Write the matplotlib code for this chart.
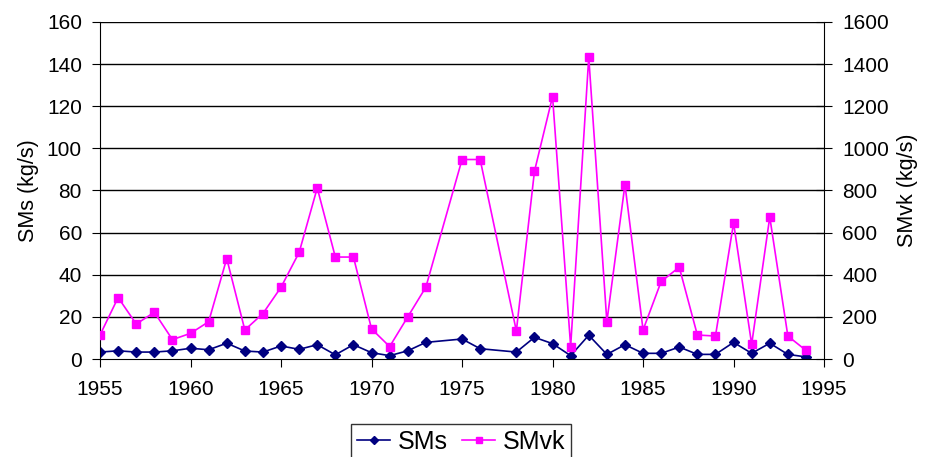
import matplotlib.pyplot as plt

plt.rcParams['font.family'] = ['Liberation Sans', 'DejaVu Sans']

# data (1974 and 1977 are missing)
years = [1955, 1956, 1957, 1958, 1959, 1960, 1961, 1962, 1963, 1964,
         1965, 1966, 1967, 1968, 1969, 1970, 1971, 1972, 1973, 1975,
         1976, 1978, 1979, 1980, 1981, 1982, 1983, 1984, 1985, 1986,
         1987, 1988, 1989, 1990, 1991, 1992, 1993, 1994]
sms = [3.3, 3.9, 3.3, 3.3, 3.9, 5.1, 4.4, 7.5, 3.8, 3.3,
       6.2, 4.6, 6.8, 2.0, 6.8, 3.0, 1.6, 3.9, 7.9, 9.5,
       4.9, 3.3, 10.3, 7.3, 1.6, 11.3, 2.2, 6.8, 2.7, 2.7,
       5.7, 2.2, 2.2, 7.9, 2.7, 7.5, 2.2, 1.0]
smvk = [114, 292, 166, 222, 92, 122, 177, 477, 138, 216,
        341, 506, 812, 484, 484, 143, 59, 200, 341, 947,
        947, 133, 891, 1246, 59, 1433, 177, 828, 138, 368,
        436, 114, 109, 646, 70, 674, 109, 41]

fig = plt.figure(figsize=(9.28, 4.57), dpi=100)
ax = fig.add_axes([0.1078, 0.2144, 0.7802, 0.7376])
ax2 = ax.twinx()

l1, = ax.plot(years, sms, color='#000080', marker='D', markersize=5, lw=1.2, label='SMs')
l2, = ax2.plot(years, smvk, color='#FF00FF', marker='s', markersize=6, lw=1.2, label='SMvk')

ax.set_xlim(1955, 1995)
ax.set_ylim(0, 160)
ax2.set_ylim(0, 1600)
ax.set_xticks(range(1955, 1996, 5))
ax.set_yticks(range(0, 161, 20))
ax2.set_yticks(range(0, 1601, 200))

for y in range(20, 161, 20):
    ax.axhline(y, color='black', lw=1, zorder=0)

for a in (ax, ax2):
    a.spines['top'].set_visible(False)
ax.spines['right'].set_visible(False)
ax2.spines['left'].set_visible(False)
ax2.spines['bottom'].set_visible(False)

ax.tick_params(axis='y', labelsize=15, direction='out', length=6, pad=7)
ax.tick_params(axis='x', labelsize=15, direction='out', length=6, pad=9)
ax2.tick_params(axis='y', labelsize=15, direction='inout', length=12, pad=7)

ax.set_ylabel('SMs (kg/s)', fontsize=15.5, labelpad=6)
ax2.set_ylabel('SMvk (kg/s)', fontsize=15.5, labelpad=6)

leg = fig.legend([l1, l2], ['SMs', 'SMvk'], loc='upper center', bbox_to_anchor=(0.497, 0.073),
                 ncol=2, fontsize=18, frameon=True, fancybox=False, edgecolor='black',
                 handlelength=1.3, handletextpad=0.3, columnspacing=0.6,
                 borderpad=0.25, borderaxespad=0, markerscale=0.8)
leg.get_frame().set_linewidth(1)

fig.savefig('out.png', dpi=100)
